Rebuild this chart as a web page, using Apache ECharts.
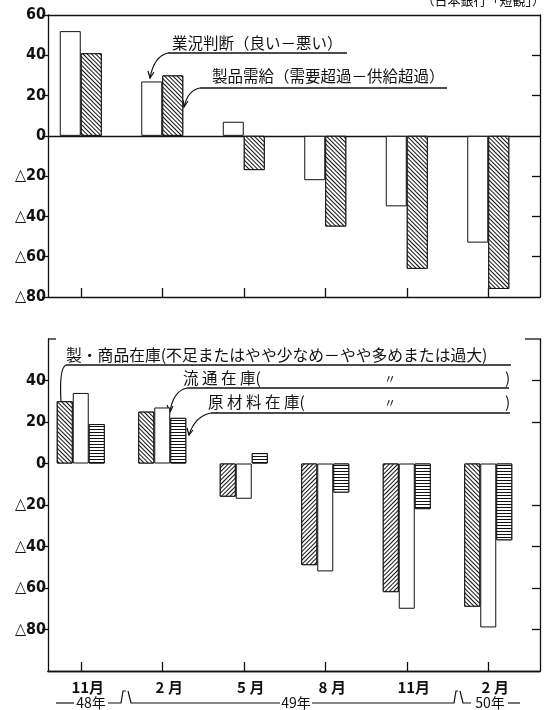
<!DOCTYPE html>
<html>
<head>
<meta charset="utf-8">
<script src="https://cdn.jsdelivr.net/npm/echarts@6/dist/echarts.min.js"></script>
<style>
  html, body { margin: 0; padding: 0; background: #fff; }
  #chart { width: 549px; height: 710px; }
</style>
</head>
<body>
<div id="chart"></div>
<script>
(function () {
  // categories and values
  var months = ['11月', '2 月', '5 月', '8 月', '11月', '2 月'];
  var gyokyo = [52, 27, 7, -22, -35, -53];          // 業況判断（良い－悪い）
  var seihinJukyu = [41, 30, -17, -45, -66, -76];   // 製品需給（需要超過－供給超過）
  var seihinZaiko = [30, 25, -16, -49, -62, -69];   // 製・商品在庫
  var ryutsuZaiko = [34, 27, -17, -52, -70, -79];   // 流通在庫
  var genZaiko = [19, 22, 5, -14, -22, -37];        // 原材料在庫
  var topLabels = [60, 40, 20, 0, -20, -40, -60, -80];
  var topRightTicks = [40, 20, -20, -40, -60];
  var bottomLabels = [40, 20, 0, -20, -40, -60, -80];
  var bottomRightTicks = [40, 20, -20, -40, -60, -80];

  var NUM_FONT = '"Liberation Sans Narrow", "DejaVu Sans Condensed", sans-serif';
  var JP_FONT = '"Noto Sans CJK JP", sans-serif';
  var BLACK = '#111';

  function tri(v) {
    return v < 0 ? '△' + (-v) : String(v);
  }

  function hatch(rot) {
    return {
      symbol: 'rect',
      symbolSize: 1,
      dashArrayX: [1, 0],
      dashArrayY: [1, 2],
      rotation: rot,
      color: BLACK,
      backgroundColor: '#fff'
    };
  }
  var BACK = hatch(Math.PI / 4);
  var FWD = hatch(-Math.PI / 4);
  var LINES = {
    symbol: 'rect',
    symbolSize: 1,
    dashArrayX: [1, 0],
    dashArrayY: [1, 2],
    rotation: 0,
    color: BLACK,
    backgroundColor: '#fff'
  };
  // 5月・8月・11月(49年) の製・商品在庫は斜線の向きが逆
  var fwdIdx = [2, 3, 4];

  var barStyle = { color: '#fff', borderColor: BLACK, borderWidth: 1 };

  function frameY(gi, min, max, labels, left) {
    return {
      gridIndex: gi,
      type: 'value',
      position: left ? 'left' : 'right',
      min: min,
      max: max,
      interval: 20,
      axisLine: { show: true, onZero: false, lineStyle: { color: BLACK, width: 1.3 } },
      axisTick: left
        ? { show: true, inside: false, length: 6, customValues: labels, lineStyle: { color: BLACK, width: 1.3 } }
        : { show: true, inside: true, length: 8, customValues: labels, lineStyle: { color: BLACK, width: 1.3 } },
      axisLabel: left
        ? {
            show: true,
            customValues: labels,
            formatter: tri,
            margin: 2,
            color: BLACK,
            fontSize: 16,
            fontWeight: 'bold',
            fontFamily: NUM_FONT
          }
        : { show: false },
      splitLine: { show: false }
    };
  }

  function hiddenY(gi, min, max) {
    return {
      gridIndex: gi,
      type: 'value',
      min: min,
      max: max,
      show: false
    };
  }

  function lineX(gi, pos, onZero) {
    return {
      gridIndex: gi,
      type: 'value',
      position: pos,
      min: 0,
      max: 1,
      axisLine: { show: true, onZero: onZero, onZeroAxisIndex: 0, lineStyle: { color: BLACK, width: 1.3 } },
      axisTick: { show: false },
      axisLabel: { show: false },
      splitLine: { show: false }
    };
  }

  function catX(gi, showLabel) {
    return {
      gridIndex: gi,
      type: 'category',
      data: months,
      position: 'bottom',
      axisLine: { show: false, onZero: false },
      axisTick: { show: true, inside: true, length: 9, alignWithLabel: true, lineStyle: { color: BLACK, width: 1.3 } },
      axisLabel: {
        show: showLabel,
        margin: 9,
        padding: [0, 0, 0, 14],
        color: BLACK,
        fontSize: 15,
        fontWeight: 'bold',
        fontFamily: JP_FONT
      },
      splitLine: { show: false }
    };
  }

  function txt(text, x, y, size, align) {
    return {
      type: 'text',
      style: {
        text: text,
        x: x,
        y: y,
        fill: BLACK,
        font: size + 'px ' + JP_FONT,
        textAlign: align || 'left',
        textVerticalAlign: 'middle'
      }
    };
  }

  function ln(x1, y1, x2, y2) {
    return {
      type: 'line',
      shape: { x1: x1, y1: y1, x2: x2, y2: y2 },
      style: { stroke: BLACK, lineWidth: 1.3 }
    };
  }

  function curve(x1, y1, cx, cy, x2, y2) {
    return {
      type: 'bezierCurve',
      shape: { x1: x1, y1: y1, cpx1: cx, cpy1: cy, x2: x2, y2: y2 },
      style: { stroke: BLACK, lineWidth: 1.2, fill: null }
    };
  }

  function poly(points) {
    return {
      type: 'polyline',
      shape: { points: points },
      style: { stroke: BLACK, lineWidth: 1.2, fill: null }
    };
  }

  var chart = echarts.init(document.getElementById('chart'));
  var option = {
    animation: false,
    backgroundColor: '#fff',
    grid: [
      { left: 48, right: 9, top: 15, height: 282 },
      { left: 40, right: 20, top: 15, height: 282 },
      { left: 48, right: 9, top: 339, height: 332 },
      { left: 40, right: 20, top: 339, height: 332 }
    ],
    xAxis: [
      lineX(0, 'bottom', false),
      lineX(0, 'top', false),
      lineX(0, 'bottom', true),
      catX(1, false),
      lineX(2, 'bottom', false),
      lineX(2, 'bottom', true),
      catX(3, true)
    ],
    yAxis: [
      frameY(0, -80, 60, topLabels, true),
      frameY(0, -80, 60, topRightTicks, false),
      hiddenY(1, -80, 60),
      frameY(2, -100, 60, bottomLabels, true),
      frameY(2, -100, 60, bottomRightTicks, false),
      hiddenY(3, -100, 60)
    ],
    series: [
      {
        name: '業況判断',
        type: 'bar',
        xAxisIndex: 3,
        yAxisIndex: 2,
        barWidth: 21,
        barGap: '0%',
        data: gyokyo,
        itemStyle: barStyle
      },
      {
        name: '製品需給',
        type: 'bar',
        xAxisIndex: 3,
        yAxisIndex: 2,
        barWidth: 21,
        barGap: '0%',
        data: seihinJukyu,
        itemStyle: { color: '#fff', borderColor: BLACK, borderWidth: 1, decal: BACK }
      },
      {
        name: '製・商品在庫',
        type: 'bar',
        xAxisIndex: 6,
        yAxisIndex: 5,
        barWidth: 16,
        barGap: '0%',
        data: seihinZaiko.map(function (v, i) {
          return { value: v, itemStyle: { decal: fwdIdx.indexOf(i) >= 0 ? FWD : BACK } };
        }),
        itemStyle: { color: '#fff', borderColor: BLACK, borderWidth: 1 }
      },
      {
        name: '流通在庫',
        type: 'bar',
        xAxisIndex: 6,
        yAxisIndex: 5,
        barWidth: 16,
        barGap: '0%',
        data: ryutsuZaiko,
        itemStyle: barStyle
      },
      {
        name: '原材料在庫',
        type: 'bar',
        xAxisIndex: 6,
        yAxisIndex: 5,
        barWidth: 16,
        barGap: '0%',
        data: genZaiko,
        itemStyle: { color: '#fff', borderColor: BLACK, borderWidth: 1, decal: LINES }
      }
    ],
    graphic: [
      // source note, cut off by the top edge
      txt('（日本銀行「短観」）', 545, 0, 13, 'right'),

      // top chart labels
      txt('業況判断（良い－悪い）', 172, 43, 15.5),
      ln(168, 53, 347, 53),
      curve(168, 53, 154, 56, 150, 78),
      poly([[148, 71], [150, 78], [154, 72]]),
      txt('製品需給（需要超過－供給超過）', 212, 76, 15.5),
      ln(200, 88, 447, 88),
      curve(200, 88, 188, 90, 184, 107),
      poly([[183, 100], [184, 107], [188, 101]]),

      // bottom chart frame stubs
      ln(48, 339, 56, 339),
      ln(525, 339, 540, 339),

      // bottom chart labels
      txt('製・商品在庫(不足またはやや少なめ－やや多めまたは過大)', 66, 355, 15.8),
      ln(66, 365, 511, 365),
      curve(66, 365, 59, 368, 61, 402),
      txt('流 通 在 庫(', 183, 378, 15.5),
      txt('〃', 384, 379, 12),
      txt(')', 505, 378, 15.5),
      ln(187, 388, 509, 388),
      curve(187, 388, 173, 391, 170, 412),
      poly([[167, 405], [170, 412], [173, 406]]),
      txt('原 材 料 在 庫(', 208, 402, 15.5),
      txt('〃', 384, 403, 12),
      txt(')', 505, 402, 15.5),
      ln(211, 413, 510, 413),
      curve(211, 413, 195, 416, 189, 435),
      poly([[187, 428], [189, 435], [193, 430]]),

      // year row under the months
      poly([[56, 703], [74, 703]]),
      txt('48年', 91, 703, 14, 'center'),
      poly([[108, 703], [121, 703], [123, 691], [126, 691]]),
      poly([[128, 691], [131, 703], [280, 703]]),
      txt('49年', 296, 703, 14, 'center'),
      poly([[312, 703], [454, 703], [456, 691], [458, 691]]),
      poly([[460, 691], [463, 703], [471, 703]]),
      txt('50年', 490, 703, 14, 'center'),
      poly([[508, 703], [520, 703]])
    ]
  };
  chart.setOption(option);
})();
</script>
</body>
</html>
